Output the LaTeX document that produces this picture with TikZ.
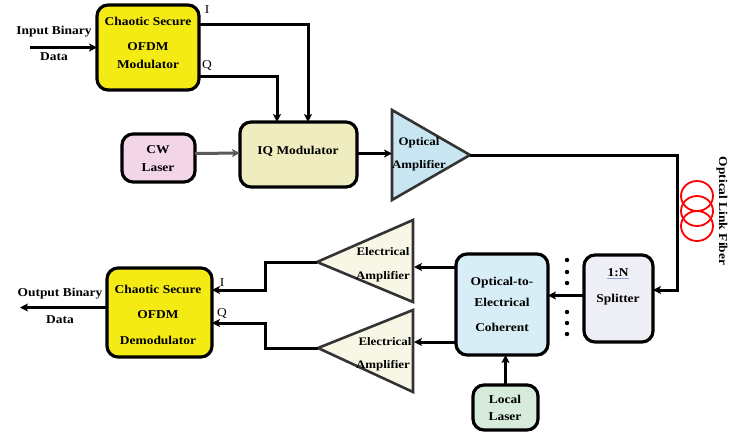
\documentclass[tikz,border=0pt]{standalone}
\usepackage{fontspec}
\setmainfont{Liberation Serif}[FakeStretch=1.12]
\usetikzlibrary{arrows.meta,calc}
\definecolor{yel}{HTML}{F5EB14}
\definecolor{iqc}{HTML}{EFEDC0}
\definecolor{cwc}{HTML}{F3D5E8}
\definecolor{oac}{HTML}{C7E6F2}
\definecolor{ampc}{HTML}{F8F7E6}
\definecolor{oec}{HTML}{D8EEF6}
\definecolor{spc}{HTML}{EEEEF6}
\definecolor{llc}{HTML}{D6EBDA}
\definecolor{ulc}{HTML}{8FA8D8}
\begin{document}
\begin{tikzpicture}[x=1pt,y=-1pt,
  blk/.style={draw=black,line width=3.2pt,rounded corners=11pt,inner sep=0pt,outer sep=0pt},
  txt/.style={inner sep=0pt,font=\fontsize{12}{14}\selectfont\bfseries},
  stxt/.style={inner sep=0pt,font=\fontsize{11.5}{13}\selectfont\bfseries},
  lbl/.style={inner sep=0pt,font=\fontsize{12}{14}\selectfont},
  arr/.style={draw=black,line width=3pt,-{Stealth[length=8pt,width=8pt,inset=2pt]}},
  arrg/.style={draw=black!65,line width=3pt,-{Stealth[length=8pt,width=8pt,inset=2pt]}},
  amp/.style={draw=black!80,line width=2.6pt,line join=miter}]
\useasboundingbox (0,0) rectangle (746,434);

% boxes
\node[blk,fill=yel,minimum width=102pt,minimum height=85pt] (mod) at (148,47.5) {};
\node[blk,fill=cwc,minimum width=73pt,minimum height=48pt] (cw) at (158.5,158) {};
\node[blk,fill=iqc,minimum width=117pt,minimum height=65pt] (iq) at (298.5,154.5) {};
\node[blk,fill=spc,minimum width=69pt,minimum height=87pt] (split) at (618.5,298.5) {};
\node[blk,fill=oec,minimum width=92pt,minimum height=101pt] (oe) at (502,304.5) {};
\node[blk,fill=llc,minimum width=65pt,minimum height=45pt] (ll) at (505.5,407.5) {};
\node[blk,fill=yel,minimum width=105pt,minimum height=89pt] (demod) at (159.5,312.5) {};

% amplifier triangles
\coordinate (oatop) at (392,110);
\coordinate (oabot) at (392,200);
\coordinate (oaapex) at (470,155);
\filldraw[amp,fill=oac] (oatop) -- (oaapex) -- (oabot) -- cycle;

\coordinate (a1top) at (413,220);
\coordinate (a1bot) at (413,302);
\coordinate (a1apex) at (317,262);
\filldraw[amp,fill=ampc] (a1top) -- (a1apex) -- (a1bot) -- cycle;

\coordinate (a2top) at (413,310);
\coordinate (a2bot) at (413,392);
\coordinate (a2apex) at (318,348);
\filldraw[amp,fill=ampc] (a2top) -- (a2apex) -- (a2bot) -- cycle;

% other coordinates
\coordinate (inp) at (30,47.5);
\coordinate (outp) at (20,307.5);
\coordinate (fib) at (677,211);
\coordinate (oain) at (392,153.5);
\coordinate (a1in) at (414,267);
\coordinate (a2in) at (414,342);
\coordinate (j1) at (265,262);
\coordinate (j2) at (265,348);

% connectors
\draw[arr] (inp) -- (mod.west);
\draw[arr] ($(mod.north east)+(0,19)$) -| ($(iq.north west)+(68,0)$);
\draw[arr] ($(mod.north east)+(0,71)$) -| ($(iq.north west)+(37,0)$);
\draw[arrg] ($(cw.east)+(0,-4.5)$) -- ($(iq.west)+(0,-1.5)$);
\draw[arr] ($(iq.east)+(0,-1)$) -- (oain);
\draw[arr] (oaapex) -| (fib) |- ($(split.east)+(0,-8.5)$);
\draw[arr] ($(split.west)+(0,-3)$) -- ($(oe.east)+(0,-9)$);
\draw[arr] ($(oe.north west)+(0,13)$) -- (a1in);
\draw[arr] ($(oe.north west)+(0,88)$) -- (a2in);
\draw[arr] (ll.north) -- (ll.north |- oe.south);
\draw[arr] (a1apex) -- (j1) |- ($(demod.north east)+(0,22)$);
\draw[arr] (a2apex) -- (j2) |- ($(demod.north east)+(0,55)$);
\draw[arr] ($(demod.west)+(0,-5)$) -- (outp);

% fiber coils
\foreach \yy in {196,211,226} \draw[red,line width=1.8pt] (697,\yy) circle [x radius=16pt,y radius=15pt];

% dots
\foreach \yy in {260,272,283,312,323,334} \fill (567,\yy) circle [radius=2.2pt];

% texts
\node[txt] at (148,21) {Chaotic Secure};
\node[txt] at (148,47) {OFDM};
\node[txt] at (148,64) {Modulator};
\node[txt] at (54,32) {Input Binary};
\node[txt] at (54,57) {Data};
\node[lbl] at (207,10) {I};
\node[lbl] at (207,65) {Q};
\node[txt] at (158,150) {CW};
\node[txt] at (158,168) {Laser};
\node[txt] at (298,151) {IQ Modulator};
\node[stxt] at (419,143) {Optical};
\node[stxt] at (419,166) {Amplifier};
\node[txt,rotate=-90] at (722,211) {Optical Link Fiber};
\node[txt] (n1) at (618,273) {1:N};
\draw[ulc,line width=0.9pt] ($(n1.south west)+(0,1.5)$) -- ($(n1.south east)+(0,1.5)$);
\node[txt] at (618,300) {Splitter};
\node[txt] at (502,283) {Optical-to-};
\node[txt] at (502,302) {Electrical};
\node[txt] at (502,327) {Coherent};
\node[txt] at (505,399) {Local};
\node[txt] at (505,417) {Laser};
\node[stxt] at (383,252) {Electrical};
\node[stxt] at (383,277) {Amplifier};
\node[stxt] at (385,342) {Electrical};
\node[stxt] at (383,366) {Amplifier};
\node[txt] at (158,289) {Chaotic Secure};
\node[txt] at (158,315) {OFDM};
\node[txt] at (158,340) {Demodulator};
\node[lbl] at (222,283) {I};
\node[lbl] at (222,313) {Q};
\node[txt] at (60,294) {Output Binary};
\node[txt] at (60,320) {Data};
\end{tikzpicture}
\end{document}
